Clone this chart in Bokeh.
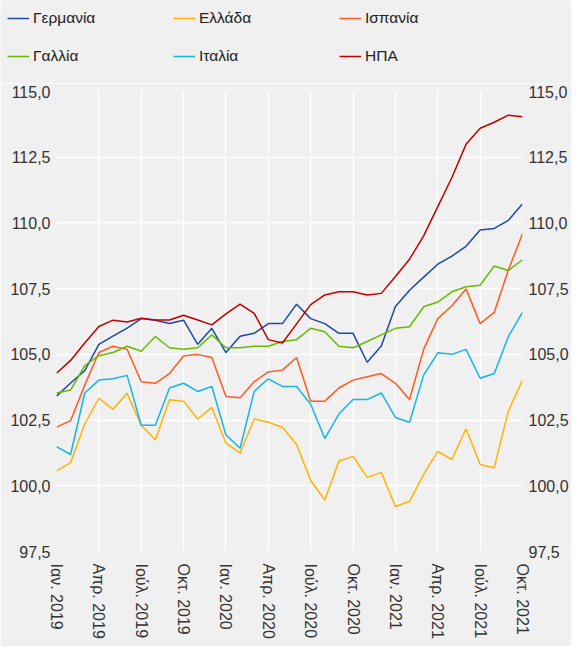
from bokeh.plotting import figure
from bokeh.models import (Range1d, FixedTicker, LinearAxis, CustomJSTickFormatter,
                          Legend, LegendItem)
from bokeh.embed import file_html
from bokeh.resources import INLINE

# ---- data -------------------------------------------------------------
month_index = list(range(34))  # Jan 2019 .. Oct 2021
tick_labels = ["Ιαν. 2019", "Απρ. 2019", "Ιούλ. 2019", "Οκτ. 2019",
               "Ιαν. 2020", "Απρ. 2020", "Ιούλ. 2020", "Οκτ. 2020",
               "Ιαν. 2021", "Απρ. 2021", "Ιούλ. 2021", "Οκτ. 2021"]
tick_positions = [0, 3, 6, 9, 12, 15, 18, 21, 24, 27, 30, 33]
y_ticks = [97.5, 100.0, 102.5, 105.0, 107.5, 110.0, 112.5, 115.0]

germany = [103.41, 103.91, 104.38, 105.38, 105.69, 106.0, 106.36, 106.3, 106.17, 106.3,
           105.38, 105.99, 105.07, 105.69, 105.8, 106.17, 106.17, 106.91, 106.36, 106.17,
           105.8, 105.8, 104.7, 105.32, 106.82, 107.44, 107.94, 108.43, 108.74, 109.11,
           109.73, 109.79, 110.1, 110.72]
greece = [100.57, 100.88, 102.35, 103.33, 102.91, 103.52, 102.3, 101.74, 103.27, 103.22,
          102.54, 102.98, 101.62, 101.25, 102.54, 102.42, 102.23, 101.57, 100.2, 99.46,
          100.94, 101.12, 100.32, 100.51, 99.21, 99.4, 100.44, 101.31, 101.0, 102.17,
          100.81, 100.69, 102.85, 104.01]
spain = [102.23, 102.48, 103.83, 105.07, 105.31, 105.19, 103.96, 103.9, 104.27, 104.94,
         105.0, 104.88, 103.4, 103.35, 103.96, 104.33, 104.4, 104.88, 103.22, 103.22,
         103.72, 104.02, 104.15, 104.27, 103.9, 103.28, 105.19, 106.36, 106.85, 107.49,
         106.17, 106.6, 108.21, 109.59]
france = [103.53, 103.64, 104.57, 104.95, 105.07, 105.31, 105.12, 105.68, 105.25, 105.19,
          105.25, 105.74, 105.25, 105.25, 105.31, 105.31, 105.49, 105.56, 105.99, 105.86,
          105.31, 105.25, 105.49, 105.74, 105.99, 106.05, 106.81, 106.99, 107.38, 107.57,
          107.63, 108.36, 108.19, 108.6]
italy = [101.49, 101.19, 103.53, 104.02, 104.07, 104.2, 102.3, 102.3, 103.72, 103.9,
         103.59, 103.78, 101.93, 101.43, 103.59, 104.07, 103.78, 103.78, 103.1, 101.8,
         102.73, 103.28, 103.28, 103.53, 102.6, 102.42, 104.21, 105.06, 105.0, 105.19,
         104.09, 104.27, 105.68, 106.6]
usa = [104.28, 104.77, 105.43, 106.06, 106.3, 106.23, 106.37, 106.31, 106.31, 106.49,
       106.31, 106.12, 106.54, 106.91, 106.56, 105.56, 105.43, 106.16, 106.89, 107.26,
       107.38, 107.38, 107.26, 107.32, 107.96, 108.62, 109.51, 110.62, 111.73, 112.99,
       113.6, 113.83, 114.1, 114.04]

series_names = ["Γερμανία", "Ελλάδα", "Ισπανία", "Γαλλία", "Ιταλία", "ΗΠΑ"]
series_values = [germany, greece, spain, france, italy, usa]
series_colors = ["#1f47a3", "#ffb300", "#ff5a1f", "#66bb00", "#12b5ec", "#c00000"]

BG = "#f0f0f0"
FONT = "Liberation Sans"
W = 571

# ---- legend strip -----------------------------------------------------
LH = 83
lf = figure(width=W, height=LH, output_backend="svg", toolbar_location=None,
            x_range=Range1d(0, W), y_range=Range1d(0, LH),
            min_border=0, x_axis_type=None, y_axis_type=None)
lf.background_fill_color = BG
lf.border_fill_color = BG
lf.outline_line_color = None
lf.xgrid.visible = False
lf.ygrid.visible = False

# legend-only renderers, placed outside the visible range
legend_renderers = [lf.line([-20, -10], [-20, -20], line_color=c, line_width=1.5)
                    for c in series_colors]


def make_legend(idx, y):
    return Legend(items=[LegendItem(label=series_names[i], renderers=[legend_renderers[i]])
                         for i in idx],
                  orientation="horizontal", location=(7, y),
                  glyph_width=22, glyph_height=20, label_standoff=4, label_width=140,
                  label_height=20, spacing=0, padding=0, margin=0,
                  border_line_color=None, background_fill_alpha=0,
                  label_text_font=FONT, label_text_font_size="15.5px",
                  label_text_color="#222222")


lf.add_layout(make_legend([0, 1, 2], 55), "center")
lf.add_layout(make_legend([3, 4, 5], 17), "center")

# ---- main chart -------------------------------------------------------
p = figure(width=W, height=646 - LH, output_backend="svg", toolbar_location=None,
           x_range=Range1d(0, 33), y_range=Range1d(97.5, 115.0),
           min_border_left=56, min_border_right=49, min_border_top=8,
           min_border_bottom=95)
p.background_fill_color = BG
p.border_fill_color = BG
p.outline_line_color = None

yticker = FixedTicker(ticks=y_ticks)
fmt = CustomJSTickFormatter(code="return tick.toFixed(1).replace('.', ',');")

p.yaxis.ticker = yticker
p.yaxis.formatter = fmt
right_axis = LinearAxis(ticker=yticker, formatter=fmt)
p.add_layout(right_axis, "right")

p.xaxis.ticker = FixedTicker(ticks=tick_positions)
p.xaxis.major_label_overrides = {t: l for t, l in zip(tick_positions, tick_labels)}
p.xaxis.major_label_orientation = "vertical"
p.xaxis.major_label_text_baseline = "alphabetic"

for ax in [p.xaxis[0], p.yaxis[0], right_axis]:
    ax.axis_line_color = None
    ax.major_tick_line_color = None
    ax.minor_tick_line_color = None
    ax.major_tick_out = 0
    ax.major_tick_in = 0
    ax.minor_tick_out = 0
    ax.minor_tick_in = 0
    ax.major_label_text_font = FONT
    ax.major_label_text_font_size = "16px"
    ax.major_label_text_color = "#333333"
    ax.major_label_standoff = 6

p.xaxis.major_label_standoff = 12

p.xgrid.ticker = FixedTicker(ticks=tick_positions)
p.ygrid.ticker = yticker
for g in [p.xgrid[0], p.ygrid[0]]:
    g.grid_line_color = "white"
    g.grid_line_width = 1.5

for vals, col in zip(series_values, series_colors):
    p.line(month_index, vals, line_color=col, line_width=1.5)

open("out.html", "w").write(file_html([lf, p], INLINE))
